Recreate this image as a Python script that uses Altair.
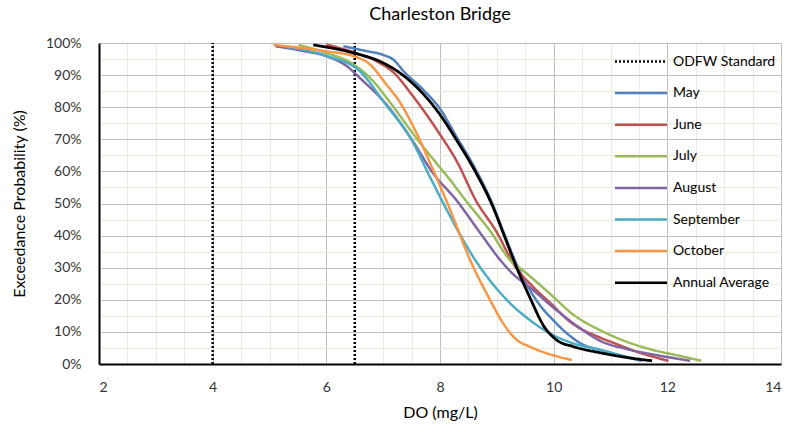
import altair as alt
import pandas as pd

# ---------------- data ----------------
series_order = ["ODFW Standard", "May", "June", "July", "August",
                "September", "October", "Annual Average"]
series_colors = ["#000000", "#4F81BD", "#C0504D", "#9BBB59", "#8064A2",
                 "#4BACC6", "#F79646", "#000000"]

odfw_x = [4.0, 6.5]

may_x = [6.3, 6.7, 7.0, 7.18, 7.36, 7.7, 8.0, 8.3, 8.6, 8.92, 9.12, 9.35, 9.55, 9.75, 9.99, 10.23, 10.52, 10.82, 11.2, 11.55]
may_y = [99, 97.5, 96.3, 94.8, 91.2, 85.5, 79.5, 70.5, 61.5, 50, 41, 31, 24, 18.5, 13.7, 9.6, 6, 4.4, 2.5, 1]

june_x = [6.0, 6.5, 6.9, 7.2, 7.5, 8.0, 8.3, 8.63, 9.0, 9.3, 9.64, 9.94, 10.3, 10.82, 11.05, 11.5, 12.02]
june_y = [99.5, 97, 94.2, 90.5, 84, 71.5, 63, 51, 41, 31, 24, 19, 13, 8.2, 6.6, 3.6, 1]

july_x = [5.51, 6.0, 6.48, 6.83, 7.1, 7.6, 7.94, 8.18, 8.45, 8.9, 9.23, 9.47, 9.99, 10.3, 10.82, 11.05, 11.4, 11.7, 12.2, 12.6]
july_y = [99.4, 96.9, 93.3, 88, 82, 70, 62.5, 57.3, 51, 41, 32.4, 29, 21, 16, 10.5, 8.6, 6.2, 4.6, 2.6, 1]

aug_x = [5.1, 5.6, 6.0, 6.36, 6.59, 7.06, 7.5, 7.88, 8.29, 8.7, 9.06, 9.23, 9.64, 10.0, 10.4, 10.82, 11.3, 11.8, 12.4]
aug_y = [99, 97.5, 95.9, 92.8, 89.1, 80.8, 70, 59.4, 51, 41, 32.4, 29, 23, 17.5, 12, 7.2, 4.6, 2.8, 1]

sep_x = [5.3, 6.0, 6.59, 7.03, 7.5, 7.82, 8.12, 8.62, 8.88, 9.23, 9.58, 9.99, 10.35, 10.82, 11.5]
sep_y = [98.8, 96, 91.2, 81.2, 69.8, 58.4, 48, 32.4, 26, 19, 13.7, 9, 6.4, 4.4, 1.2]

oct_x = [5.07, 6.0, 6.48, 6.77, 7.06, 7.27, 7.59, 7.88, 8.18, 8.53, 8.88, 9.11, 9.35, 9.58, 10.32]
oct_y = [99.4, 97.4, 95.9, 93.3, 87, 82.2, 71.8, 60.4, 48, 32.4, 20, 12.7, 7.5, 5.4, 1.2]

avg_x = [5.77, 6.48, 7.0, 7.41, 8.0, 8.29, 8.62, 8.93, 9.13, 9.35, 9.6, 9.82, 10.05, 10.35, 10.82, 11.3, 11.73]
avg_y = [99.4, 96.9, 93.8, 89.1, 77.7, 69.8, 60, 49, 40, 30, 20, 12, 7.5, 5.4, 3.5, 2, 1]

major_x = [2, 4, 6, 8, 10, 12, 14]
minor_x = [2.5, 3, 3.5, 4.5, 5, 5.5, 6.5, 7, 7.5, 8.5, 9, 9.5, 10.5, 11, 11.5, 12.5, 13, 13.5]
major_y = [0, 10, 20, 30, 40, 50, 60, 70, 80, 90, 100]
minor_y = [5, 15, 25, 35, 45, 55, 65, 75, 85, 95]

# ---------------- tables ----------------
month_sets = [("May", may_x, may_y), ("June", june_x, june_y), ("July", july_x, july_y),
              ("August", aug_x, aug_y), ("September", sep_x, sep_y), ("October", oct_x, oct_y)]
rows = []
for name, xs, ys in month_sets:
    for i, (a, b) in enumerate(zip(xs, ys)):
        rows.append({"series": name, "x": a, "y": b, "i": i})
df_months = pd.DataFrame(rows)
df_avg = pd.DataFrame({"series": "Annual Average", "x": avg_x, "y": avg_y, "i": range(len(avg_x))})
df_odfw = pd.DataFrame({"series": "ODFW Standard", "x": odfw_x, "y0": 0, "y1": 100})

FONT = "Lato"
x_scale = alt.Scale(domain=[2, 14], nice=False, zero=False)
y_scale = alt.Scale(domain=[0, 100], nice=False)
color_scale = alt.Scale(domain=series_order, range=series_colors)
dash_scale = alt.Scale(domain=series_order, range=[[2, 2]] + [[1, 0]] * 7)

legend = alt.Legend(title=None, orient="none", legendX=527.5, legendY=4,
                    symbolType="M-2,0H2", symbolSize=676, symbolStrokeWidth=2.5,
                    labelFont=FONT, labelFontSize=14, labelColor="#000000",
                    labelOffset=17.5, rowPadding=9.6, padding=0)

color_enc = alt.Color("series:N", scale=color_scale, legend=legend)
dash_enc = alt.StrokeDash("series:N", scale=dash_scale, legend=legend)

minor_grid = alt.Chart(df_months).mark_line(opacity=0).encode(
    x=alt.X("x:Q", scale=x_scale, axis=alt.Axis(values=minor_x, grid=True, gridColor="#EEEBDD",
            gridWidth=1, labels=False, ticks=False, domain=False, title=None, orient="bottom")),
    y=alt.Y("y:Q", scale=y_scale, axis=alt.Axis(values=minor_y, grid=True, gridColor="#EEEBDD",
            gridWidth=1, labels=False, ticks=False, domain=False, title=None, orient="left")),
)

major_grid = alt.Chart(df_months).mark_line(opacity=0).encode(
    x=alt.X("x:Q", scale=x_scale, axis=alt.Axis(
        values=major_x, grid=True, gridColor="#BFBFBF", gridWidth=1, ticks=False,
        domainColor="#000000", domainWidth=2, labelFont=FONT, labelFontSize=14,
        labelColor="#333333", labelPadding=16, title="DO (mg/L)", titleFont=FONT,
        titleFontSize=16, titleFontWeight="normal", titleColor="#000000", titlePadding=10,
        orient="bottom")),
    y=alt.Y("y:Q", scale=y_scale, axis=alt.Axis(
        values=major_y, grid=True, gridColor="#BFBFBF", gridWidth=1, ticks=False,
        domainColor="#000000", domainWidth=2, labelFont=FONT, labelFontSize=14,
        labelColor="#333333", labelPadding=18, labelExpr="datum.value + '%'",
        title="Exceedance Probability (%)", titleFont=FONT, titleFontSize=16,
        titleFontWeight="normal", titleColor="#000000", titlePadding=18, orient="left")),
)

odfw = alt.Chart(df_odfw).mark_rule(strokeWidth=2.5).encode(
    x=alt.X("x:Q", scale=x_scale, axis=None),
    y=alt.Y("y0:Q", scale=y_scale, axis=None),
    y2="y1:Q",
    color=color_enc,
    strokeDash=dash_enc,
)

months = alt.Chart(df_months).mark_line(strokeWidth=2.5, interpolate="monotone").encode(
    x=alt.X("x:Q", scale=x_scale, axis=None),
    y=alt.Y("y:Q", scale=y_scale, axis=None),
    color=color_enc,
    strokeDash=dash_enc,
    order="i:Q",
)

avg = alt.Chart(df_avg).mark_line(strokeWidth=2.8, interpolate="monotone").encode(
    x=alt.X("x:Q", scale=x_scale, axis=None),
    y=alt.Y("y:Q", scale=y_scale, axis=None),
    color=color_enc,
    strokeDash=dash_enc,
    order="i:Q",
)

chart = alt.layer(minor_grid, major_grid, odfw, months, avg).resolve_axis(
    x="independent", y="independent"
).properties(
    width=682, height=321,
    title=alt.TitleParams("Charleston Bridge", font=FONT, fontSize=18, fontWeight="normal",
                          color="#000000", anchor="middle", offset=12),
    autosize=alt.AutoSizeParams(type="none"),
    padding={"left": 99, "top": 43, "right": 12, "bottom": 65},
).configure_view(stroke=None)

chart.save("out.html", embed_options={"renderer": "svg", "actions": False})
